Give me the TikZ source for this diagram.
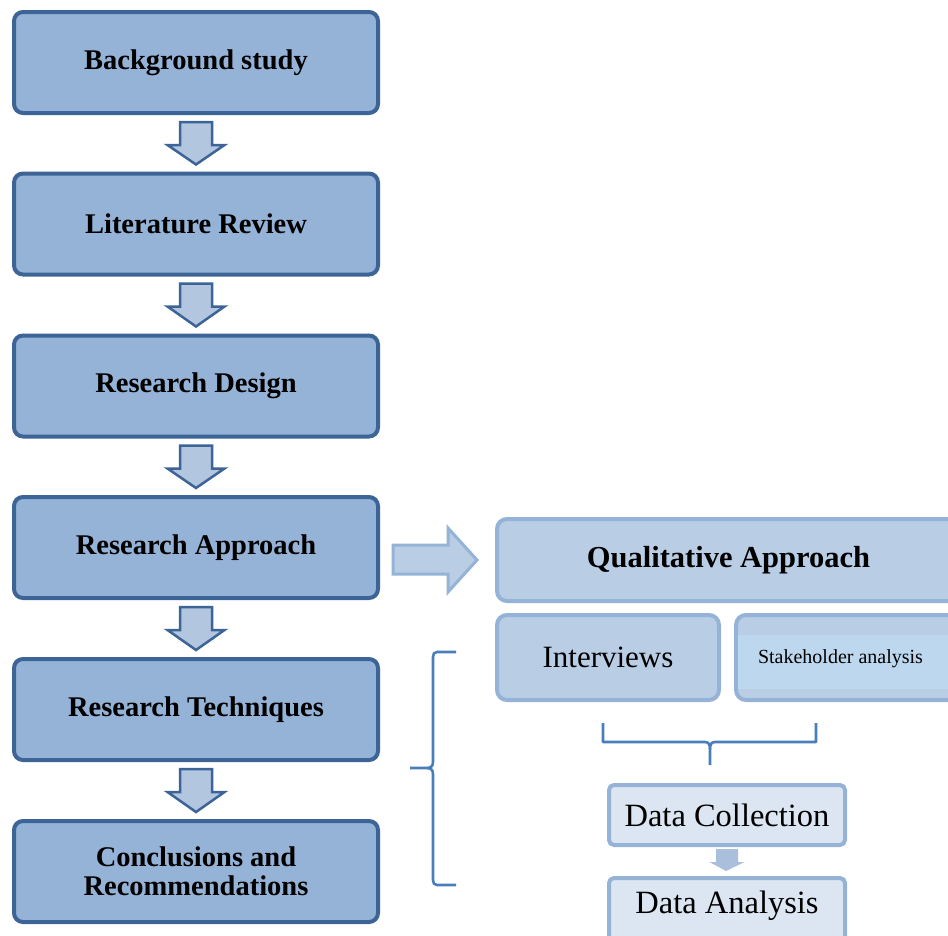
\documentclass[tikz,border=0pt]{standalone}
\usepackage{fontspec}
\setmainfont{Liberation Serif}
\usetikzlibrary{calc}

\definecolor{stepfill}{HTML}{95B3D7}
\definecolor{stepline}{HTML}{3C6496}
\definecolor{arrowfill}{HTML}{B3C6E0}
\definecolor{qualfill}{HTML}{B9CDE5}
\definecolor{qualline}{HTML}{95B3D7}
\definecolor{stakefill}{HTML}{BDD7EE}
\definecolor{datafill}{HTML}{DCE6F2}
\definecolor{smallarrow}{HTML}{A9BFDC}
\definecolor{bracecol}{HTML}{4A7EBB}

\tikzset{
  stepbox/.style={draw=stepline, fill=stepfill, line width=4pt, rounded corners=9pt,
    minimum width=364pt, minimum height=101pt, inner sep=0pt, align=center,
    font=\fontsize{28.5}{30}\selectfont\bfseries},
  flowarrow/.style={draw=stepline, fill=arrowfill, line width=2.5pt, line join=miter},
  qualbox/.style={draw=qualline, fill=qualfill, line width=4pt, rounded corners=10pt,
    inner sep=0pt},
  databox/.style={draw=qualline, fill=datafill, line width=4pt, rounded corners=5pt,
    minimum width=236pt, inner sep=0pt, font=\fontsize{32.5}{34}\selectfont},
  bracket/.style={draw=bracecol, line width=2.6pt, line join=round}
}

% down arrow between two stacked nodes
\newcommand\flowdown[2]{%
  \path[flowarrow]
    ($(#1.south)+(-16,7)$) -- ($(#1.south)+(16,7)$) -- ($(#1.south)+(16,30)$)
    -- ($(#1.south)+(28.5,30)$) -- ($(#2.north)+(0,-7)$)
    -- ($(#1.south)+(-28.5,30)$) -- ($(#1.south)+(-16,30)$) -- cycle;}

\begin{document}
\begin{tikzpicture}[x=1pt,y=-1pt]
\useasboundingbox (0,0) rectangle (948,935);
\clip (0,0) rectangle (948,935);

% main sequence of stages
\node[stepbox] (bg)   at (196,62.5)  {Background study};
\node[stepbox] (lit)  at (196,224)   {Literature Review};
\node[stepbox] (des)  at (196,386)   {Research Design};
\node[stepbox] (app)  at (196,547.5) {Research Approach};
\node[stepbox] (tech) at (196,709.5) {Research Techniques};
\node[stepbox] (conc) at (196,871.5) {Conclusions and\\[-1pt]Recommendations};

\flowdown{bg}{lit}
\flowdown{lit}{des}
\flowdown{des}{app}
\flowdown{app}{tech}
\flowdown{tech}{conc}

% qualitative approach and its techniques
\node[qualbox, minimum width=463pt, minimum height=82pt,
      font=\fontsize{30.5}{32}\selectfont\bfseries] (qual) at (728.5,560) {Qualitative Approach};
\node[qualbox, minimum width=222pt, minimum height=85pt,
      font=\fontsize{31}{33}\selectfont] (intv) at (608,657.5) {Interviews};
\node[qualbox, minimum width=224pt, minimum height=85pt] (stake) at (848,657.5) {};
\fill[stakefill] (738,635) rectangle (962,689);
\node[font=\fontsize{20}{22}\selectfont, inner sep=0pt] (staketxt) at (840.5,659) {Stakeholder analysis};

% arrow from the approach stage to the qualitative approach
\path[draw=qualline, fill=qualfill, line width=3pt, line join=miter]
  ($(app.east)+(13,-2.5)$) -- ($(app.east)+(68,-2.5)$) -- ($(app.east)+(68,-19.5)$)
  -- ($(qual.west)+(-18,0)$)
  -- ($(app.east)+(68,44.5)$) -- ($(app.east)+(68,26.5)$) -- ($(app.east)+(13,26.5)$) -- cycle;

% data collection and analysis
\node[databox, minimum height=60pt] (coll) at (727,815) {Data Collection};
\node[databox, minimum height=80pt, text depth=0pt] (anal) at (727,918) {};
\node[font=\fontsize{32.5}{34}\selectfont, inner sep=0pt] (analtxt) at (727,906) {Data Analysis};
\path[fill=smallarrow]
  ($(coll.south)+(-11,2)$) -- ($(coll.south)+(11,2)$) -- ($(coll.south)+(11,15)$)
  -- ($(coll.south)+(17.5,15)$) -- ($(anal.north)+(-1,-5)$)
  -- ($(coll.south)+(-17.5,15)$) -- ($(coll.south)+(-11,15)$) -- cycle;

% brace joining the two techniques
\path[bracket] (603,723) -- (603,742) -- (705,742)
  .. controls (709,742) and (710,745) .. (710,749) -- (710,765);
\path[bracket] (816,723) -- (816,742) -- (715,742)
  .. controls (711,742) and (710,745) .. (710,749);

% brace spanning the techniques block
\path[bracket] (456,652) -- (437,652) .. controls (434,652) and (433,654) .. (433,657)
  -- (433,762) .. controls (433,766) and (431,768) .. (427,768) -- (410,768);
\path[bracket] (456,885) -- (437,885) .. controls (434,885) and (433,883) .. (433,880)
  -- (433,774) .. controls (433,770) and (431,768) .. (427,768);
\end{tikzpicture}
\end{document}
